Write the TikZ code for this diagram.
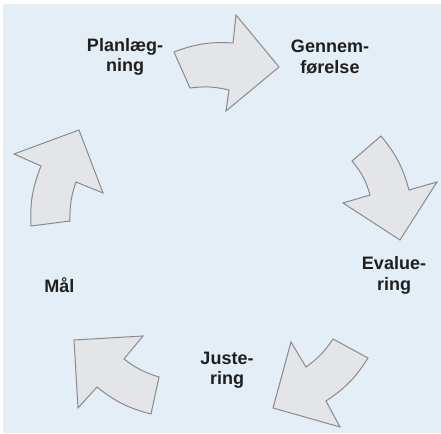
\documentclass[tikz,border=0pt]{standalone}
\usepackage{fontspec}
\setmainfont{Liberation Sans}
\usepackage{xcolor}
\usepackage{tikz}
\usetikzlibrary{positioning}

\definecolor{bgblue}{RGB}{227,238,246}
\definecolor{arrowfill}{RGB}{228,229,233}
\definecolor{arrowline}{RGB}{138,138,142}
\tikzset{
  phase/.style={align=center, inner sep=0pt, text=black!88,
    font=\fontsize{18}{20.5}\selectfont\bfseries},
  cyclearrow/.style={fill=arrowfill, draw=arrowline, line width=1pt}
}

\begin{document}
\begin{tikzpicture}[x=1pt, y=1pt]
\useasboundingbox (0,0) rectangle (441,433);
\fill [bgblue] (3,0) rectangle (441,429);

% the five steps
\node [phase] (P) at (125,376) {Planlæg-\\ning};
\node [phase] (G) at (330,376) {Gennem-\\førelse};
\node [phase] (E) at (394,157.5) {Evalue-\\ring};
\node [phase] (J) at (227,63) {Juste-\\ring};
\node [phase] (M) at (59.5,147.5) {Mål};

% curved arrows between them
\draw [cyclearrow] (174,381) to[bend left=12] (233,390) -- (236,418) -- (279,366)
  -- (226,322) -- (229,343) to[bend right=10] (190,345) -- cycle;
\draw [cyclearrow] (381,297) to[bend left=12] (409,243) -- (437,251) -- (400,193)
  -- (343,230) -- (370,238) to[bend right=12] (352,272) -- cycle;
\draw [cyclearrow] (368,75) to[bend left=12] (326,32) -- (340,6) -- (273,25)
  -- (291,91) -- (306,66) to[bend right=10] (333,94) -- cycle;
\draw [cyclearrow] (151,19) to[bend left=12] (97,46) -- (78,25) -- (74,93)
  -- (143,97) -- (124,74) to[bend right=10] (159,56) -- cycle;
\draw [cyclearrow] (31,207) to[bend left=12] (41,267) -- (14,279) -- (79,303)
  -- (103,240) -- (76,251) to[bend right=10] (70,212) -- cycle;
\end{tikzpicture}
\end{document}
